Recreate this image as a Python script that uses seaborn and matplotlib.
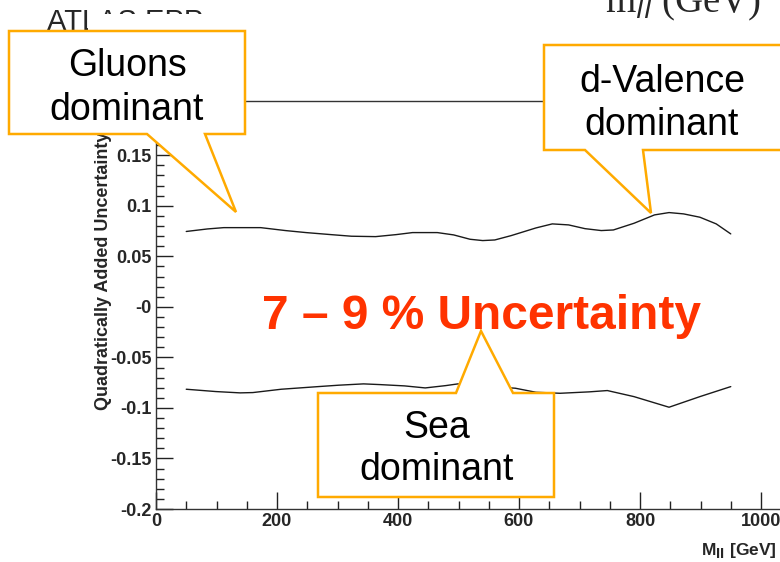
import numpy as np
import pandas as pd
import matplotlib
matplotlib.use("Agg")
import matplotlib.pyplot as plt
from matplotlib.patches import Polygon, Rectangle
from matplotlib.ticker import MultipleLocator, FuncFormatter
import seaborn as sns

# ---- data ----
upper_mass = [50, 85, 112, 173, 214, 248, 289, 323, 363, 397, 424, 465, 492, 519, 540,
              560, 587, 628, 655, 682, 709, 736, 756, 790, 824, 848, 872, 899, 926, 950]
upper_unc = [0.0746, 0.0771, 0.0784, 0.0784, 0.0755, 0.0735, 0.0715, 0.0699, 0.0695, 0.0715,
             0.0735, 0.0735, 0.0712, 0.0669, 0.0656, 0.0662, 0.0705, 0.0781, 0.0821, 0.0811,
             0.0774, 0.0755, 0.0761, 0.0827, 0.0910, 0.0933, 0.0920, 0.0887, 0.0821, 0.0722]
lower_mass = [50, 99, 139, 160, 207, 268, 302, 343, 370, 411, 445, 479, 499, 545, 594,
              628, 668, 716, 746, 790, 848, 899, 950]
lower_unc = [-0.0815, -0.0838, -0.0851, -0.0848, -0.0815, -0.0789, -0.0775, -0.0762, -0.0769,
             -0.0782, -0.0802, -0.0779, -0.0762, -0.0785, -0.0805, -0.0845, -0.0855, -0.0841,
             -0.0828, -0.0888, -0.0993, -0.0888, -0.0789]
x_ticks = [0, 200, 400, 600, 800, 1000]
y_ticks = [-0.2, -0.15, -0.1, -0.05, 0.0, 0.05, 0.1, 0.15, 0.2]

callout_gluons = ["Gluons", "dominant"]
callout_dval = ["d-Valence", "dominant"]
callout_sea = ["Sea", "dominant"]
headline = "7 \u2013 9 % Uncertainty"

df = pd.concat([
    pd.DataFrame({"mass": upper_mass, "unc": upper_unc, "band": "up"}),
    pd.DataFrame({"mass": lower_mass, "unc": lower_unc, "band": "down"}),
])

sns.set_style("ticks")
plt.rcParams["font.family"] = ["Liberation Sans", "DejaVu Sans"]

W, H = 780, 562
fig = plt.figure(figsize=(W / 100, H / 100), dpi=100)

def fx(x):
    return x / W

def fy(y):
    return 1 - y / H

def P(pts):
    return [(fx(x), fy(y)) for x, y in pts]

# axes: x=0 at px156, 0.605 px/GeV; y=-0.2 at px509, top frame px101
ax = fig.add_axes([fx(156), fy(509), (1050 * 0.605) / W, (509 - 101) / H])
sns.lineplot(data=df, x="mass", y="unc", hue="band", palette=["#1a1a1a", "#1a1a1a"],
             legend=False, linewidth=1.0, sort=False, ax=ax)
ax.set_xlim(0, 1050)
ax.set_ylim(-0.2, 0.2037)
ax.set_xlabel("")
ax.set_ylabel("")
ax.set_xticks(x_ticks)
ax.set_yticks(y_ticks)
ax.xaxis.set_minor_locator(MultipleLocator(50))
ax.yaxis.set_minor_locator(MultipleLocator(0.01))

def yfmt(v, pos):
    if abs(v) < 1e-9:
        return "-0"
    return "%g" % round(v, 3)

ax.yaxis.set_major_formatter(FuncFormatter(yfmt))
ax.tick_params(which="major", direction="in", length=12.5, width=1.0, color="#222",
               labelsize=13, pad=3)
ax.tick_params(which="minor", direction="in", length=6, width=1.0, color="#222")
for lab in ax.get_xticklabels() + ax.get_yticklabels():
    lab.set_fontweight("bold")
for s in ["left", "bottom", "top", "right"]:
    ax.spines[s].set_linewidth(1.0)
    ax.spines[s].set_color("#333")

# axis titles
fig.text(fx(104), fy(410), "Quadratically Added Uncertainty", rotation=90,
         ha="center", va="bottom", fontsize=13, fontweight="bold", zorder=1)
fig.text(fx(777), fy(555), r"M$_{\mathbf{ll}}$ [GeV]", ha="right", va="baseline",
         fontsize=12.5, fontweight="bold")

# clipped header texts
fig.text(fx(47), fy(30), "ATLAS EPP", ha="left", va="baseline", fontsize=21, zorder=2)
fig.add_artist(Rectangle((fx(88), fy(31)), fx(250 - 88), (31 - 13.5) / H,
                         transform=fig.transFigure, facecolor="white",
                         edgecolor="none", zorder=3))
fig.text(fx(605), fy(12), r"m$_{ll}$ (GeV)", ha="left", va="baseline", fontsize=28,
         family=["Liberation Serif", "DejaVu Serif"], zorder=2)

orange = "#FFAA00"
box_kw = dict(transform=fig.transFigure, facecolor="white", edgecolor=orange,
              linewidth=1.8, joinstyle="miter", zorder=5, closed=True)

gluons = [(9, 31), (245, 31), (245, 134), (205, 134), (236, 212), (147, 134), (9, 134)]
dval = [(544, 45), (800, 45), (800, 150), (643, 150), (651, 213), (585, 150), (544, 150)]
sea = [(318, 393), (456, 393), (481, 331), (513, 393), (554, 393), (554, 497), (318, 497)]
for poly in (gluons, dval, sea):
    fig.add_artist(Polygon(P(poly), **box_kw))

txt_kw = dict(ha="center", va="baseline", fontsize=27, color="black", zorder=6)
fig.text(fx(127), fy(76), callout_gluons[0], **txt_kw)
fig.text(fx(127), fy(120), callout_gluons[1], **txt_kw)
fig.text(fx(662), fy(92), callout_dval[0], **txt_kw)
fig.text(fx(662), fy(135), callout_dval[1], **txt_kw)
fig.text(fx(437), fy(438), callout_sea[0], **txt_kw)
fig.text(fx(437), fy(480), callout_sea[1], **txt_kw)

fig.text(fx(262), fy(329), headline, ha="left", va="baseline", fontsize=34.5,
         fontweight="bold", color="#FF3300", zorder=7)

fig.savefig("out.png", dpi=100)
